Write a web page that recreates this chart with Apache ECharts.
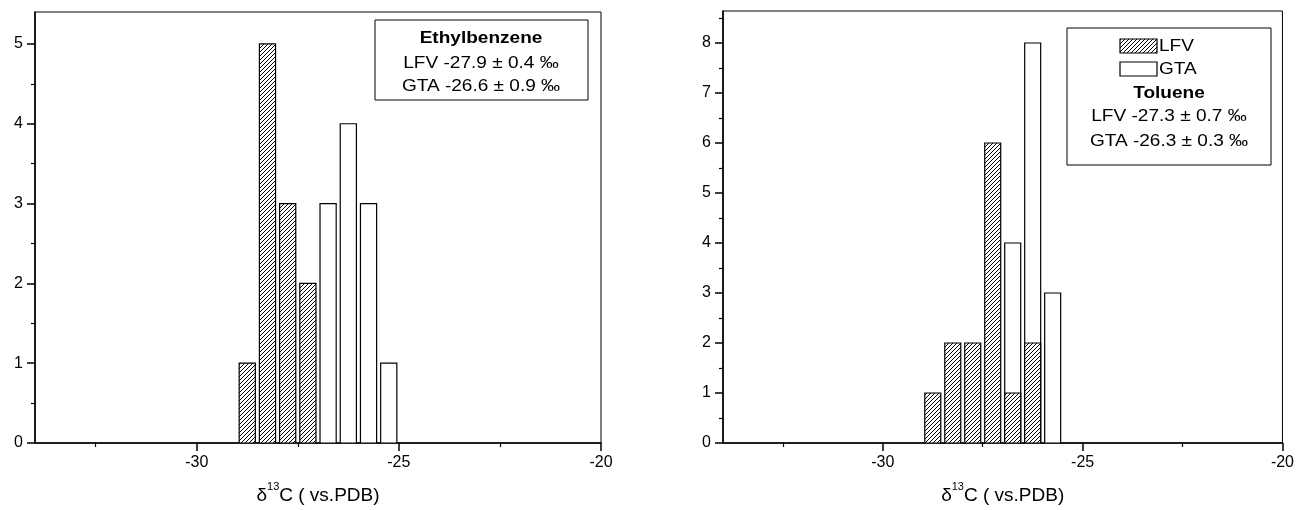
<!DOCTYPE html>
<html>
<head>
<meta charset="utf-8">
<script src="https://cdn.jsdelivr.net/npm/echarts@6/dist/echarts.min.js"></script>
<style>
  html, body { margin: 0; padding: 0; background: #fff; }
  #chart { width: 1297px; height: 510px; }
</style>
</head>
<body>
<div id="chart"></div>
<script>
// Histogram bins (centre of each 0.5 permil class) and counts per source
const binCenters = [-28.75, -28.25, -27.75, -27.25, -26.75, -26.25, -25.75, -25.25];
const ethylLFV   = [1, 5, 3, 2, 0, 0, 0, 0];
const ethylGTA   = [0, 0, 0, 0, 3, 4, 3, 1];
const tolueneLFV = [1, 2, 2, 6, 1, 2, 0, 0];
const tolueneGTA = [0, 0, 0, 0, 4, 8, 3, 0];

// Axis ticks
const xMajorTicks   = [-30, -25, -20];
const xMinorTicks   = [-32.5, -27.5, -22.5];
const ethylYMajor   = [0, 1, 2, 3, 4, 5];
const ethylYMinor   = [0.5, 1.5, 2.5, 3.5, 4.5];
const tolueneYMajor = [0, 1, 2, 3, 4, 5, 6, 7, 8];
const tolueneYMinor = [0.5, 1.5, 2.5, 3.5, 4.5, 5.5, 6.5, 7.5, 8.5];

// Text
const axisTitle = '{d|δ}{s|13}{d|C ( vs.PDB)}';
const ethylBox   = ['Ethylbenzene', 'LFV -27.9 ± 0.4 ‰', 'GTA -26.6 ± 0.9 ‰'];
const tolueneBox = ['LFV', 'GTA', 'Toluene', 'LFV -27.3 ± 0.7 ‰', 'GTA -26.3 ± 0.3 ‰'];

const FONT = '"Liberation Sans", Arial, Helvetica, sans-serif';
const BAR_WIDTH = 0.4;   // in permil units, bins are 0.5 wide
const STRETCH = 1.12;    // horizontal stretch of the annotation text

// diagonal hatch fill
function makeHatch() {
  const s = 4;
  const c = document.createElement('canvas');
  c.width = s; c.height = s;
  const g = c.getContext('2d');
  g.fillStyle = '#fff';
  g.fillRect(0, 0, s, s);
  g.strokeStyle = '#000';
  g.lineWidth = 1;
  g.beginPath();
  g.moveTo(0, s); g.lineTo(s, 0);
  g.moveTo(-1, 1); g.lineTo(1, -1);
  g.moveTo(s - 1, s + 1); g.lineTo(s + 1, s - 1);
  g.stroke();
  return { image: c, repeat: 'repeat' };
}
const hatch = makeHatch();

function toData(counts) {
  return binCenters.map((x, i) => [x, counts[i]]).filter(d => d[1] > 0);
}

function barRenderer(fill) {
  return function (params, api) {
    const x = api.value(0), h = api.value(1);
    const a = api.coord([x - BAR_WIDTH / 2, 0]);
    const b = api.coord([x + BAR_WIDTH / 2, h]);
    return {
      type: 'rect',
      shape: { x: a[0], y: b[1], width: b[0] - a[0], height: a[1] - b[1] },
      style: { fill: fill, stroke: '#000', lineWidth: 1.2 }
    };
  };
}

function barSeries(name, counts, fill, axisIdx) {
  return {
    type: 'custom', name: name,
    xAxisIndex: axisIdx, yAxisIndex: axisIdx,
    renderItem: barRenderer(fill),
    encode: { x: 0, y: 1 },
    data: toData(counts),
    clip: true, silent: true
  };
}

const tickLabel = { fontSize: 16, color: '#000', fontFamily: FONT };

function mainX(gridIndex) {
  return {
    type: 'value', gridIndex: gridIndex, position: 'bottom', min: -34, max: -20,
    axisLine: { show: true, onZero: false, lineStyle: { color: '#000', width: 1.6 } },
    axisTick: { show: true, customValues: xMajorTicks, length: 8, inside: false, lineStyle: { color: '#000', width: 1.5 } },
    axisLabel: Object.assign({ customValues: xMajorTicks, margin: 12 }, tickLabel),
    splitLine: { show: false },
    name: axisTitle, nameLocation: 'middle', nameGap: 38,
    nameTextStyle: {
      rich: {
        d: { fontSize: 19, lineHeight: 24, fontFamily: FONT, color: '#000', verticalAlign: 'bottom' },
        s: { fontSize: 11, lineHeight: 11, fontFamily: FONT, color: '#000', verticalAlign: 'top' }
      }
    }
  };
}
function minorX(gridIndex) {
  return {
    type: 'value', gridIndex: gridIndex, position: 'bottom', min: -34, max: -20,
    axisLine: { show: false, onZero: false },
    axisTick: { show: true, customValues: xMinorTicks, length: 4, lineStyle: { color: '#000', width: 1.2 } },
    axisLabel: { show: false },
    splitLine: { show: false }
  };
}
function mainY(gridIndex, max, ticks) {
  return {
    type: 'value', gridIndex: gridIndex, position: 'left', min: 0, max: max,
    axisLine: { show: true, onZero: false, lineStyle: { color: '#000', width: 1.6 } },
    axisTick: { show: true, customValues: ticks, length: 8, lineStyle: { color: '#000', width: 1.5 } },
    axisLabel: Object.assign({ customValues: ticks, margin: 12 }, tickLabel),
    splitLine: { show: false }
  };
}
function minorY(gridIndex, max, ticks) {
  return {
    type: 'value', gridIndex: gridIndex, position: 'left', min: 0, max: max,
    axisLine: { show: false, onZero: false },
    axisTick: { show: true, customValues: ticks, length: 4, lineStyle: { color: '#000', width: 1.2 } },
    axisLabel: { show: false },
    splitLine: { show: false }
  };
}

function boxText(x, y, text, opts) {
  return {
    type: 'text', x: x, y: y, scaleX: STRETCH, z: 10,
    style: Object.assign({
      text: text, fontSize: 17, fontFamily: FONT, fill: '#000',
      textAlign: 'center', textVerticalAlign: 'middle', verticalAlign: 'middle'
    }, opts || {})
  };
}

const option = {
  animation: false,
  backgroundColor: '#fff',
  grid: [
    { left: 35, top: 12, width: 566, height: 432, show: true, borderColor: '#000', borderWidth: 1, backgroundColor: 'transparent' },
    { left: 723, top: 11, width: 563, height: 432, show: true, borderColor: '#000', borderWidth: 1, backgroundColor: 'transparent' }
  ],
  xAxis: [mainX(0), minorX(0), mainX(1), minorX(1)],
  yAxis: [
    mainY(0, 5.4, ethylYMajor), minorY(0, 5.4, ethylYMinor),
    mainY(1, 8.64, tolueneYMajor), minorY(1, 8.64, tolueneYMinor)
  ],
  series: [
    barSeries('GTA', ethylGTA, '#fff', 0),
    barSeries('LFV', ethylLFV, hatch, 0),
    barSeries('GTA', tolueneGTA, '#fff', 2),
    barSeries('LFV', tolueneLFV, hatch, 2)
  ],
  graphic: [
    // Ethylbenzene annotation box
    { type: 'rect', shape: { x: 375, y: 20, width: 213, height: 80 }, style: { fill: '#fff', stroke: '#000', lineWidth: 1 }, z: 9 },
    boxText(481, 38, ethylBox[0], { fontWeight: 'bold' }),
    boxText(481, 63, ethylBox[1]),
    boxText(481, 86, ethylBox[2]),
    // Toluene annotation box with series key
    { type: 'rect', shape: { x: 1067, y: 28, width: 204, height: 137 }, style: { fill: '#fff', stroke: '#000', lineWidth: 1 }, z: 9 },
    { type: 'rect', shape: { x: 1120, y: 39, width: 37, height: 14 }, style: { fill: hatch, stroke: '#000', lineWidth: 1.2 }, z: 10 },
    { type: 'rect', shape: { x: 1120, y: 62, width: 37, height: 14 }, style: { fill: '#fff', stroke: '#000', lineWidth: 1.2 }, z: 10 },
    boxText(1159, 46, tolueneBox[0], { textAlign: 'left' }),
    boxText(1159, 69, tolueneBox[1], { textAlign: 'left' }),
    boxText(1169, 93, tolueneBox[2], { fontWeight: 'bold' }),
    boxText(1169, 116, tolueneBox[3]),
    boxText(1169, 141, tolueneBox[4])
  ]
};

const chart = echarts.init(document.getElementById('chart'), null, { renderer: 'canvas' });
chart.setOption(option);
</script>
</body>
</html>
